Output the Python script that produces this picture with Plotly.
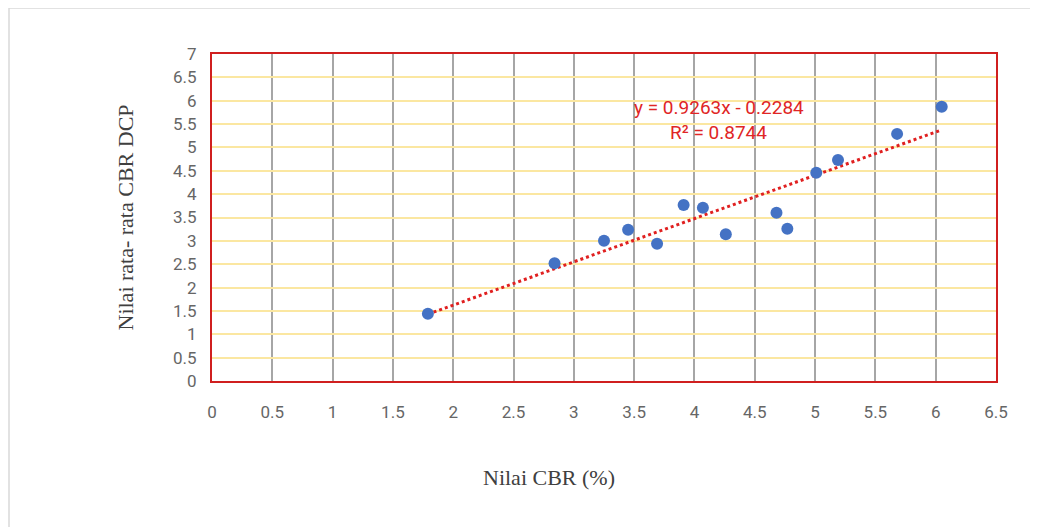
import plotly.graph_objects as go

cbr = [1.79, 2.84, 3.25, 3.45, 3.69, 3.91, 4.07, 4.26, 4.68, 4.77, 5.01, 5.19, 5.68, 6.05]
dcp = [1.44, 2.52, 3.00, 3.24, 2.94, 3.77, 3.71, 3.14, 3.60, 3.26, 4.46, 4.73, 5.29, 5.87]
slope = 0.9263
intercept = -0.2284
eq_text = "y = 0.9263x - 0.2284"
r2_text = "R² = 0.8744"
x_title = "Nilai CBR (%)"
y_title = "Nilai rata- rata CBR DCP"
x_ticks = [0, 0.5, 1, 1.5, 2, 2.5, 3, 3.5, 4, 4.5, 5, 5.5, 6, 6.5]
y_ticks = [0, 0.5, 1, 1.5, 2, 2.5, 3, 3.5, 4, 4.5, 5, 5.5, 6, 6.5, 7]

x_lo, x_hi = min(cbr), max(cbr)
trend_x = [x_lo, x_hi]
trend_y = [slope * v + intercept for v in trend_x]

tick_font = dict(family="Liberation Sans Narrow, Roboto, Arial", size=17, color="#666666")

fig = go.Figure()
fig.add_trace(go.Scatter(x=trend_x, y=trend_y, mode="lines",
                         line=dict(color="#E02020", width=3, dash="dot"),
                         hoverinfo="skip", showlegend=False))
fig.add_trace(go.Scatter(x=cbr, y=dcp, mode="markers",
                         marker=dict(color="#4472C4", size=12),
                         showlegend=False))

fig.update_layout(
    width=1038, height=527,
    margin=dict(l=204, r=50, t=46, b=154),
    paper_bgcolor="white", plot_bgcolor="white",
    xaxis=dict(range=[0, 6.5], tickvals=x_ticks, ticktext=[str(v) for v in x_ticks],
               showgrid=True, gridcolor="#A6A6A6", gridwidth=1.5,
               showline=True, linecolor="#D01F1F", linewidth=2, mirror=True,
               zeroline=False, tickfont=tick_font, ticks="", ticklabelstandoff=15),
    yaxis=dict(range=[0, 7], tickvals=y_ticks, ticktext=[str(v) for v in y_ticks],
               showgrid=True, gridcolor="#FBE7A1", gridwidth=2,
               showline=True, linecolor="#D01F1F", linewidth=2, mirror=True,
               zeroline=False, tickfont=tick_font, ticks="", ticklabelstandoff=10),
    annotations=[
        dict(text=eq_text, x=4.2, y=5.85, xref="x", yref="y", showarrow=False,
             font=dict(family="Roboto, Arial", size=19, color="#E02525")),
        dict(text=r2_text, x=4.2, y=5.33, xref="x", yref="y", showarrow=False,
             font=dict(family="Roboto, Arial", size=19, color="#E02525")),
        dict(text=x_title, x=0.43, y=0, xref="paper", yref="paper", yshift=-96,
             showarrow=False, yanchor="middle",
             font=dict(family="Liberation Serif, Times New Roman", size=22, color="#404040")),
        dict(text=y_title, x=0, y=0.5, xref="paper", yref="paper", xshift=-87,
             showarrow=False, textangle=-90, xanchor="center",
             font=dict(family="Liberation Serif, Times New Roman", size=22, color="#404040")),
    ],
    shapes=[dict(type="rect", xref="paper", yref="paper",
                 x0=-203 / 784, x1=1.2, y0=-1.0, y1=1 + 46 / 327,
                 line=dict(color="#D9D9D9", width=1.5), layer="below")],
)

fig.write_html("out.html")
